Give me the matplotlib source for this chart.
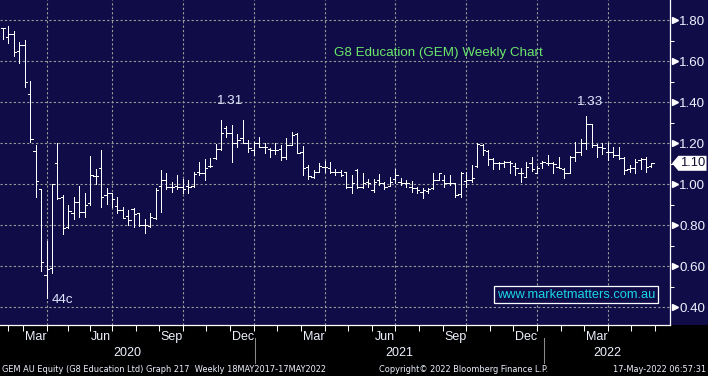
import numpy as np
import matplotlib
matplotlib.use("Agg")
import matplotlib.pyplot as plt
from matplotlib.collections import LineCollection
from matplotlib.patches import Rectangle, Polygon

# ---------------- data (weekly OHLC, GEM AU) ----------------
opens = [1.759, 1.719, 1.732, 1.649, 1.678, 1.439, 1.159, 0.976, 0.556, 0.589,
         1.101, 0.935, 0.792, 0.857, 0.911, 0.862, 0.909, 1.039, 1.076, 0.945,
         0.958, 0.893, 0.873, 0.844, 0.876, 0.857, 0.800, 0.795, 0.832, 0.990,
         1.020, 0.984, 0.990, 0.984, 0.990, 0.990, 1.060, 1.055, 1.088, 1.125,
         1.169, 1.272, 1.247, 1.198, 1.223, 1.202, 1.166, 1.198, 1.179, 1.169,
         1.166, 1.169, 1.130, 1.190, 1.244, 1.158, 1.085, 1.036, 1.060, 1.085,
         1.076, 1.060, 1.057, 1.060, 0.987, 1.068, 0.984, 1.011, 0.971, 1.019,
         1.006, 0.990, 1.023, 1.011, 1.006, 0.987, 0.979, 0.963, 0.968, 0.979,
         1.019, 1.019, 1.006, 1.003, 0.951, 1.014, 1.019, 1.089, 1.190, 1.163,
         1.120, 1.104, 1.104, 1.109, 1.088, 1.055, 1.036, 1.104, 1.055, 1.101,
         1.101, 1.101, 1.081, 1.072, 1.055, 1.133, 1.158, 1.198, 1.291, 1.190,
         1.179, 1.158, 1.158, 1.141, 1.125, 1.072, 1.076, 1.117, 1.120, 1.088]
highs = [1.760, 1.771, 1.746, 1.694, 1.702, 1.502, 1.190, 0.977, 0.724, 0.998,
         1.198, 0.946, 0.898, 0.935, 0.992, 0.956, 1.137, 1.073, 1.166, 0.982,
         0.958, 0.935, 0.889, 0.873, 0.881, 0.860, 0.829, 0.857, 0.979, 1.068,
         1.055, 1.011, 1.044, 1.023, 1.020, 1.060, 1.109, 1.120, 1.125, 1.195,
         1.314, 1.283, 1.288, 1.242, 1.310, 1.215, 1.207, 1.228, 1.202, 1.174,
         1.202, 1.190, 1.223, 1.255, 1.247, 1.185, 1.093, 1.068, 1.104, 1.112,
         1.109, 1.072, 1.068, 1.060, 1.044, 1.072, 1.052, 1.023, 1.023, 1.047,
         1.011, 1.036, 1.072, 1.028, 1.019, 1.016, 0.987, 0.979, 0.979, 1.052,
         1.052, 1.044, 1.044, 1.003, 1.060, 1.060, 1.093, 1.198, 1.195, 1.166,
         1.125, 1.109, 1.114, 1.114, 1.101, 1.076, 1.109, 1.133, 1.088, 1.112,
         1.141, 1.109, 1.133, 1.076, 1.137, 1.207, 1.218, 1.332, 1.291, 1.193,
         1.202, 1.198, 1.182, 1.182, 1.130, 1.093, 1.120, 1.125, 1.130, 1.104]
lows = [1.706, 1.689, 1.624, 1.589, 1.475, 1.206, 0.935, 0.577, 0.442, 0.564,
        0.927, 0.755, 0.784, 0.828, 0.837, 0.841, 0.898, 0.998, 0.889, 0.902,
        0.886, 0.860, 0.832, 0.800, 0.792, 0.795, 0.763, 0.792, 0.828, 0.865,
        0.974, 0.963, 0.974, 0.958, 0.958, 0.984, 1.044, 1.020, 1.085, 1.120,
        1.166, 1.228, 1.109, 1.182, 1.198, 1.158, 1.142, 1.179, 1.153, 1.133,
        1.146, 1.117, 1.120, 1.190, 1.150, 1.044, 1.023, 1.028, 1.060, 1.060,
        1.052, 1.044, 1.039, 0.979, 0.958, 0.979, 0.979, 0.987, 0.963, 0.995,
        0.974, 0.990, 1.003, 0.995, 0.987, 0.963, 0.958, 0.930, 0.955, 0.974,
        1.019, 0.984, 0.995, 0.935, 0.935, 0.987, 1.011, 1.085, 1.142, 1.093,
        1.072, 1.072, 1.085, 1.055, 1.044, 1.011, 1.033, 1.065, 1.052, 1.076,
        1.093, 1.055, 1.076, 1.028, 1.052, 1.114, 1.142, 1.169, 1.182, 1.130,
        1.146, 1.117, 1.133, 1.120, 1.049, 1.060, 1.055, 1.072, 1.060, 1.085]
closes = [1.759, 1.732, 1.642, 1.678, 1.496, 1.218, 1.013, 0.618, 0.584, 0.998,
          0.930, 0.784, 0.868, 0.911, 0.862, 0.898, 1.044, 1.039, 0.935, 0.955,
          0.925, 0.873, 0.834, 0.824, 0.854, 0.800, 0.800, 0.837, 0.971, 1.020,
          0.984, 0.984, 0.984, 0.974, 0.984, 1.049, 1.055, 1.076, 1.088, 1.169,
          1.247, 1.247, 1.198, 1.215, 1.198, 1.174, 1.198, 1.179, 1.179, 1.166,
          1.166, 1.130, 1.190, 1.239, 1.153, 1.076, 1.039, 1.060, 1.088, 1.085,
          1.060, 1.060, 1.044, 0.987, 1.003, 0.987, 1.006, 1.003, 1.011, 1.003,
          0.987, 1.011, 1.044, 1.006, 1.003, 0.979, 0.971, 0.971, 0.974, 1.019,
          1.052, 1.006, 1.006, 0.946, 1.055, 1.019, 1.028, 1.195, 1.166, 1.120,
          1.104, 1.104, 1.109, 1.101, 1.076, 1.052, 1.085, 1.072, 1.080, 1.109,
          1.101, 1.098, 1.080, 1.055, 1.133, 1.158, 1.198, 1.291, 1.190, 1.179,
          1.174, 1.158, 1.141, 1.125, 1.068, 1.076, 1.109, 1.120, 1.085, 1.101]

y_ticks = [0.40, 0.60, 0.80, 1.00, 1.20, 1.40, 1.60, 1.80]
y_tick_labels = ["0.40", "0.60", "0.80", "1.00", "1.20", "1.40", "1.60", "1.80"]
month_labels = ["Mar", "Jun", "Sep", "Dec", "Mar", "Jun", "Sep", "Dec", "Mar"]
year_labels = ["2020", "2021", "2022"]
title_text = "G8 Education (GEM) Weekly Chart"
footer_left = "GEM AU Equity (G8 Education Ltd) Graph 217  Weekly 18MAY2017-17MAY2022"
footer_mid = "Copyright\u00a9 2022 Bloomberg Finance L.P."
footer_right = "17-May-2022 06:57:31"
watermark = "www.marketmatters.com.au"

# ---------------- layout (week-index positions) ----------------
quarter_grid = [8, 20, 33, 46, 59, 72, 85, 98, 111]
year_bounds = [-0.55, 46.2, 99.3, 122.4]

NAVY = "#100c47"
GRID = "#9a9a9a"
LABEL = "#eef2ff"

W, H = 708, 376
fig = plt.figure(figsize=(W / 100, H / 100), dpi=100)
fig.patch.set_facecolor("black")
fig.add_artist(Rectangle((0, 51 / H), 1, 325 / H, transform=fig.transFigure,
                         facecolor=NAVY, edgecolor="none", zorder=0))

ax = fig.add_axes([0, 51 / H, 670 / W, 325 / H])
ax.set_facecolor(NAVY)
ax.set_xlim(-0.55, 122.4)
ax.set_ylim(0.3122, 1.8976)

n = len(opens)
tw = 0.43
segs = []
for i in range(n):
    segs.append([(i, lows[i]), (i, highs[i])])
    segs.append([(i - tw, opens[i]), (i, opens[i])])
    segs.append([(i, closes[i]), (i + tw, closes[i])])
lc = LineCollection(segs, colors="white", linewidths=0.7, antialiaseds=False, zorder=3)
ax.add_collection(lc)

# spines
for s in ["left", "top"]:
    ax.spines[s].set_visible(False)
for s in ["right", "bottom"]:
    ax.spines[s].set_color("white")
    ax.spines[s].set_linewidth(0.9)

# y axis on right
ax.yaxis.tick_right()
ax.set_yticks(y_ticks)
ax.set_yticklabels(y_tick_labels)
ax.set_yticks(np.array(y_ticks[:-1]) + 0.1, minor=True)
ax.tick_params(axis="y", which="major", length=0, pad=6.8, labelsize=9.6,
               labelcolor=LABEL, labelfontfamily="Liberation Sans")
ax.tick_params(axis="y", which="minor", length=3, width=0.75, color="white",
               direction="out")
ax.plot([1.0075] * len(y_ticks), y_ticks, marker=">", ms=4.5, color="white",
        ls="none", transform=ax.get_yaxis_transform(), clip_on=False, zorder=5)

# x axis ticks / grid
ax.set_xticks(quarter_grid)
ax.set_xticklabels([])
minor = []
for a, b in zip(quarter_grid[:-1], quarter_grid[1:]):
    minor += [a + (b - a) / 3, a + 2 * (b - a) / 3]
minor += [quarter_grid[0] - 4.3, quarter_grid[0] - 8.6 + 1.5,
          quarter_grid[-1] + 4.3, quarter_grid[-1] + 8.6]
ax.set_xticks(minor, minor=True)
ax.tick_params(axis="x", which="both", length=4, width=0.75, color="white",
               direction="out")

ax.grid(True, which="major", color=GRID, linestyle=(0, (2, 2)), linewidth=0.8)

# month and year labels
xform = ax.get_xaxis_transform()
for pos, lab in zip(quarter_grid, month_labels):
    ax.text(pos - 2.0, -12 / 325, lab, transform=xform, ha="center", va="center",
            color=LABEL, fontsize=9, family="Liberation Sans")
for k, lab in enumerate(year_labels):
    mid = (year_bounds[k] + year_bounds[k + 1]) / 2
    ax.text(mid, -28 / 325, lab, transform=xform, ha="center", va="center",
            color=LABEL, fontsize=9, family="Liberation Sans")
for b in year_bounds[1:-1]:
    ax.plot([b, b], [-13 / 325, -38 / 325], transform=xform, color="#8a8a8a",
            lw=0.75, clip_on=False)

# title
ax.text(438 / 670, 1 - 53 / 325, title_text, transform=ax.transAxes, ha="center",
        va="center", color="#6be86b", fontsize=9.6, family="Liberation Sans")

# annotations
ann_color = "#dfe8ff"
i_hi1 = 20 + int(np.argmax(highs[20:60]))
i_hi2 = 60 + int(np.argmax(highs[60:]))
i_lo = int(np.argmin(lows))
ax.annotate(f"{highs[i_hi1]:.2f}", xy=(i_hi1, highs[i_hi1]), xytext=(9, 19),
            textcoords="offset pixels", ha="center", va="center",
            color=ann_color, fontsize=9.6, family="Liberation Sans")
ax.annotate(f"{highs[i_hi2]:.2f}", xy=(i_hi2, highs[i_hi2]), xytext=(4, 14),
            textcoords="offset pixels", ha="center", va="center",
            color=ann_color, fontsize=9.6, family="Liberation Sans")
ax.annotate(f"{round(lows[i_lo] * 100):d}c", xy=(i_lo, lows[i_lo]), xytext=(5, -2),
            textcoords="offset pixels", ha="left", va="center",
            color=ann_color, fontsize=9.6, family="Liberation Sans")

# watermark box
ax.text(576 / 670, 1 - 294.5 / 325, watermark, transform=ax.transAxes,
        ha="center", va="center", color="#1ad6e8", fontsize=9.3,
        family="Liberation Sans",
        bbox=dict(boxstyle="square,pad=0.18", facecolor=NAVY, edgecolor="white",
                  linewidth=0.9), zorder=6)

# last price marker
last = closes[-1]
hh = 7.5 / 205
yt = ax.get_yaxis_transform()
poly = Polygon([(1.003, last), (1.0125, last + hh), (1.0545, last + hh),
                (1.0545, last - hh), (1.0125, last - hh)], closed=True,
               transform=yt, facecolor="white", edgecolor="none", clip_on=False,
               zorder=6)
ax.add_patch(poly)
ax.text(1.0335, last, f"{last:.2f}", transform=yt, ha="center", va="center",
        color="#101030", fontsize=9.4, family="Liberation Sans", zorder=7,
        clip_on=False)

# footer
fy = (H - 369) / H
fkw = dict(color=LABEL, fontsize=6.6, family="DejaVu Sans", stretch="condensed",
           va="center")
fig.text(2 / W, fy, footer_left, ha="left", **fkw)
fig.text(464 / W, fy, footer_mid, ha="center", **fkw)
fig.text(706 / W, fy, footer_right, ha="right", **fkw)

fig.savefig("out.png", dpi=100, facecolor=fig.get_facecolor())
